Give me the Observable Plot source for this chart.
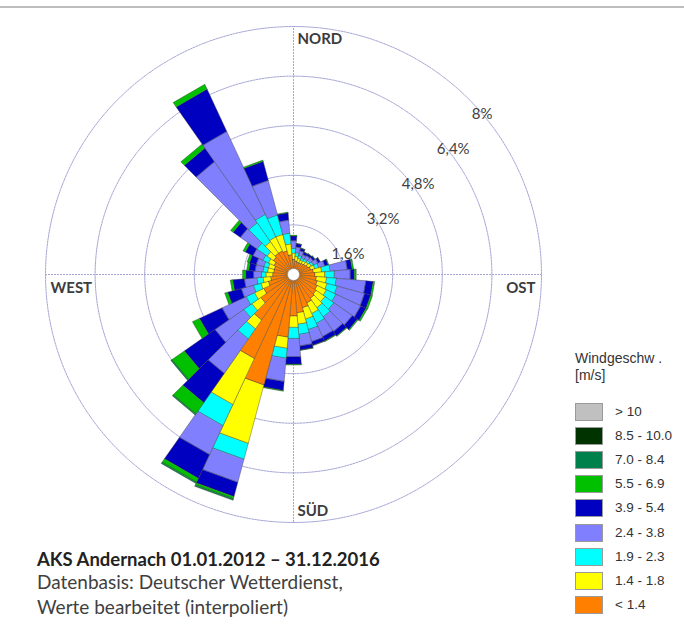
<!DOCTYPE html>
<html>
<head>
<meta charset="utf-8">
<script src="https://cdn.jsdelivr.net/npm/d3@7"></script>
<script src="https://cdn.jsdelivr.net/npm/@observablehq/plot@0.6"></script>
<style>
  html, body { margin: 0; padding: 0; background: #fff; }
  #wrap { position: relative; width: 684px; height: 630px; overflow: hidden; }
  #chart { position: absolute; left: 0; top: 0; }
  #topline { position: absolute; left: 0; top: 6px; width: 684px; height: 2px; background: #bdbdbd; }
  #legend { position: absolute; left: 0; top: 0; width: 684px; height: 630px; pointer-events: none;
            font-family: "Liberation Sans", Arial, sans-serif; color: #333; }
  #caption { position: absolute; left: 37px; top: 549px; font-family: Lato, "Open Sans", sans-serif; color: #404040; white-space: nowrap; }
  #caption .t { font-weight: bold; font-size: 18.5px; line-height: 20px; color: #222; }
  #caption .s { font-size: 19px; line-height: 25px; }
</style>
</head>
<body>
<div id="wrap">
  <div id="chart"></div>
  <div id="topline"></div>
  <div id="legend"></div>
  <div id="caption">
    <div class="t">AKS Andernach 01.01.2012 – 31.12.2016</div>
    <div class="s">Datenbasis: Deutscher Wetterdienst,</div>
    <div class="s">Werte bearbeitet (interpoliert)</div>
  </div>
</div>
<script>
// ---------- data ----------
const directions = [0,10,20,30,40,50,60,70,80,90,100,110,120,130,140,150,160,170,
                    180,190,200,210,220,230,240,250,260,270,280,290,300,310,320,330,340,350];

// frequency (%) of each wind-speed class per direction sector
const speedLt14  = [0.50,0.45,0.42,0.42,0.45,0.48,0.52,0.58,0.65,0.70,0.75,0.80,0.85,0.90,0.95,1.02,1.12,1.25,
                    1.35,2.04,3.70,3.00,1.80,1.30,1.07,0.85,0.75,0.68,0.65,0.65,0.70,0.80,0.85,0.85,0.80,0.65];
const speed14_18 = [0.20,0.15,0.13,0.10,0.10,0.10,0.12,0.14,0.27,0.32,0.33,0.33,0.33,0.35,0.37,0.38,0.38,0.37,
                    0.37,0.36,1.95,1.64,0.35,0.35,0.33,0.25,0.25,0.22,0.20,0.20,0.20,0.25,0.45,0.50,0.55,0.35];
const speed19_23 = [0.15,0.12,0.10,0.08,0.07,0.08,0.08,0.13,0.28,0.31,0.32,0.34,0.34,0.35,0.36,0.35,0.35,0.33,
                    0.36,0.32,0.53,0.75,0.40,0.32,0.30,0.25,0.20,0.15,0.15,0.15,0.20,0.40,0.75,0.80,0.65,0.35];
const speed24_38 = [0.25,0.18,0.15,0.12,0.13,0.12,0.16,0.20,0.55,0.51,0.95,0.91,0.88,0.72,0.57,0.47,0.40,0.37,
                    0.59,0.75,0.77,1.03,1.35,1.13,0.85,0.40,0.40,0.25,0.25,0.25,0.35,0.65,2.40,2.95,1.15,0.42];
const speed39_54 = [0.15,0.10,0.08,0.08,0.07,0.07,0.07,0.11,0.15,0.13,0.23,0.20,0.18,0.20,0.17,0.15,0.12,0.13,
                    0.24,0.29,0.47,0.84,1.15,1.20,0.80,0.45,0.37,0.25,0.20,0.22,0.27,0.28,0.53,1.50,0.63,0.23];
const speed55_69 = [0.02,0.01,0.01,0.01,0.01,0.01,0.01,0.02,0.05,0.06,0.05,0.06,0.05,0.03,0.02,0.02,0.01,0.01,
                    0.02,0.02,0.08,0.14,0.45,0.50,0.25,0.10,0.08,0.10,0.07,0.08,0.08,0.10,0.16,0.17,0.04,0.02];
const speed70_84 = [0,0,0,0,0,0,0,0,0,0,0,0,0,0,0,0,0,0,
                    0,0,0.04,0.04,0.03,0.03,0,0,0,0,0,0,0,0,0,0,0,0];
const speed85_100 = [0,0,0,0,0,0,0,0,0,0,0,0,0,0,0,0,0,0,
                     0,0,0,0,0,0,0,0,0,0,0,0,0,0,0,0,0,0];
const speedGt10  = [0,0,0,0,0,0,0,0,0,0,0,0,0,0,0,0,0,0,
                    0,0,0,0,0,0,0,0,0,0,0,0,0,0,0,0,0,0];

// classes from inner (slow) to outer (fast)
const classLabels = ["< 1.4","1.4 - 1.8","1.9 - 2.3","2.4 - 3.8","3.9 - 5.4","5.5 - 6.9","7.0 - 8.4","8.5 - 10.0","> 10"];
const classColors = ["#ff8000","#ffff00","#00ffff","#8080ff","#0000c0","#00c000","#00804a","#003300","#c0c0c0"];
const classSeries = [speedLt14, speed14_18, speed19_23, speed24_38, speed39_54, speed55_69, speed70_84, speed85_100, speedGt10];

const ringValues = [1.6, 3.2, 4.8, 6.4, 8];
const ringLabels = ["1,6%", "3,2%", "4,8%", "6,4%", "8%"];
const compassLabels = ["NORD", "OST", "SÜD", "WEST"];
const compassBearings = [0, 90, 180, 270];
const legendTitle = ["Windgeschw .", "[m/s]"];

// ---------- geometry derived from data ----------
const rad = Math.PI / 180;
const halfWidth = 5; // degrees each side of sector centre
const verts = [];
directions.forEach((dir, i) => {
  let r0 = 0;
  classSeries.forEach((series, k) => {
    const v = series[i];
    if (!(v > 0)) return;
    const r1 = r0 + v;
    const a0 = (dir - halfWidth) * rad, a1 = (dir + halfWidth) * rad;
    const id = dir + "-" + k;
    const cls = classLabels[k];
    const pts = r0 === 0
      ? [[0, 0], [r1, a0], [r1, a1]]
      : [[r0, a0], [r1, a0], [r1, a1], [r0, a1]];
    pts.forEach(([r, a]) => verts.push({id, cls, order: k, x: r * Math.sin(a), y: r * Math.cos(a)}));
    r0 = r1;
  });
});

const ringPts = [];
ringValues.forEach(v => {
  for (let a = 0; a <= 360; a += 2) ringPts.push({v, x: v * Math.sin(a * rad), y: v * Math.cos(a * rad)});
});

const maxR = ringValues[ringValues.length - 1];
const gridColor = "#a6a6d6";

const compassStyle = {
  "NORD": {textAnchor: "start", dx: 4, dy: 13},
  "OST":  {textAnchor: "end", dx: -6, dy: 14},
  "SÜD":  {textAnchor: "start", dx: 4, dy: -11},
  "WEST": {textAnchor: "start", dx: 5, dy: 14}
};

const compassMarks = compassLabels.map((lab, i) => Plot.text([compassBearings[i]], {
  x: b => maxR * Math.sin(b * rad),
  y: b => maxR * Math.cos(b * rad),
  text: () => lab,
  fontSize: 15,
  fontWeight: "bold",
  fill: "#3c3c3c",
  ...compassStyle[lab]
}));

const chart = Plot.plot({
  width: 684,
  height: 530,
  marginLeft: 45,
  marginRight: 143,
  marginTop: 26,
  marginBottom: 8,
  x: {domain: [-maxR, maxR], axis: null},
  y: {domain: [-maxR, maxR], axis: null},
  color: {type: "ordinal", domain: classLabels, range: classColors},
  style: {fontFamily: "Lato, 'Open Sans', sans-serif", background: "white", overflow: "visible"},
  marks: [
    Plot.line(ringPts, {x: "x", y: "y", z: "v", stroke: gridColor, strokeWidth: 1, strokeDasharray: "2,1"}),
    Plot.ruleX([0], {y1: -maxR, y2: maxR, stroke: gridColor, strokeWidth: 1, strokeDasharray: "2,1"}),
    Plot.ruleY([0], {x1: -maxR, x2: maxR, stroke: gridColor, strokeWidth: 1, strokeDasharray: "2,1"}),
    Plot.line(verts, {x: "x", y: "y", z: "id", fill: "cls", stroke: "#3a3a3a", strokeWidth: 0.5,
                      strokeOpacity: 0.8, curve: "linear-closed"}),
    Plot.dot([0], {x: () => 0, y: () => 0, r: 6, fill: "white", stroke: "#888", strokeWidth: 0.6}),
    Plot.text(ringValues, {
      x: v => v * Math.SQRT1_2, y: v => v * Math.SQRT1_2,
      text: (v, i) => ringLabels[i], textAnchor: "start", dx: 3, dy: 15,
      fontSize: 15, fill: "#404040"
    }),
    ...compassMarks
  ]
});
document.getElementById("chart").appendChild(chart);

// ---------- legend (HTML) ----------
const legend = document.getElementById("legend");
const lt = document.createElement("div");
lt.style.cssText = "position:absolute;left:575px;top:350px;font-size:14px;line-height:17px;color:#333;";
lt.innerHTML = legendTitle.join("<br>");
legend.appendChild(lt);
const legendOrder = classLabels.map((l, i) => i).reverse(); // fastest first
legendOrder.forEach((k, j) => {
  const top = 403 + j * 24.1;
  const sw = document.createElement("div");
  sw.style.cssText = `position:absolute;left:575px;top:${top}px;width:26px;height:16px;background:${classColors[k]};border:1px solid #9a9a9a;`;
  legend.appendChild(sw);
  const tx = document.createElement("div");
  tx.style.cssText = `position:absolute;left:615px;top:${top}px;height:18px;line-height:18px;font-size:13.5px;color:#333;white-space:nowrap;`;
  tx.textContent = classLabels[k];
  legend.appendChild(tx);
});
</script>
</body>
</html>
